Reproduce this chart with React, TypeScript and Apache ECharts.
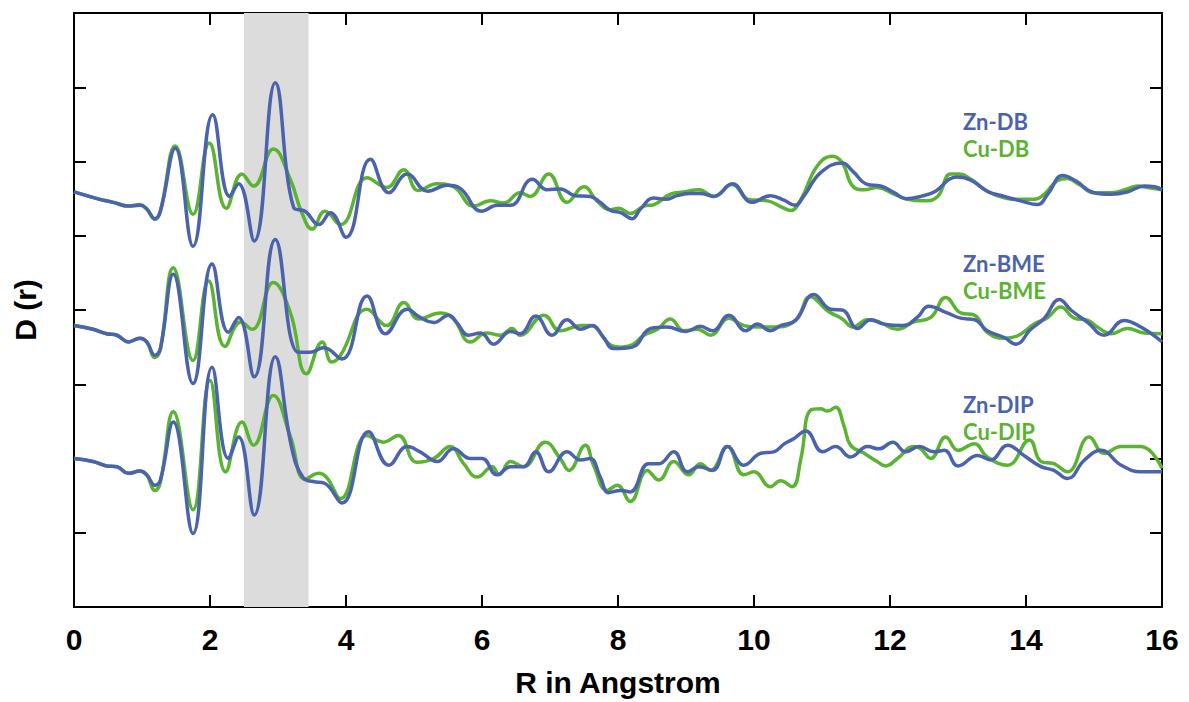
import React, { useEffect, useRef } from "react";
import * as echarts from "echarts";

// x-axis ticks (R in Angstrom) and shaded window
const xTicks = [0, 2, 4, 6, 8, 10, 12, 14, 16];
const shadeRange = [2.5, 3.45];

// D(r) traces, [R, D] pairs (arbitrary stacked units)
const znDB: [number, number][] = [
  [0, 5.59], [0.38, 5.49], [0.58, 5.45], [0.8, 5.4], [0.97, 5.41], [1.07, 5.36], [1.19, 5.23], [1.27, 5.33],
  [1.49, 6.18], [1.75, 4.86], [2.04, 6.63], [2.29, 5.53], [2.42, 5.7], [2.65, 4.93], [2.96, 7.06], [3.23, 5.38],
  [3.4, 5.33], [3.6, 5.15], [3.77, 5.31], [4.0, 4.98], [4.36, 6.03], [4.63, 5.58], [4.9, 5.83], [5.2, 5.6],
  [5.49, 5.68], [5.66, 5.65], [6.0, 5.33], [6.22, 5.41], [6.42, 5.41], [6.74, 5.76], [6.96, 5.62], [7.15, 5.63],
  [7.37, 5.54], [7.59, 5.53], [7.74, 5.45], [7.89, 5.34], [8.04, 5.31], [8.21, 5.23], [8.33, 5.36], [8.53, 5.51],
  [8.7, 5.49], [8.87, 5.54], [9.07, 5.57], [9.21, 5.57], [9.41, 5.53], [9.68, 5.7], [9.97, 5.45], [10.24, 5.54],
  [10.44, 5.48], [10.6, 5.41], [10.73, 5.53], [10.98, 5.85], [11.3, 5.98], [11.45, 5.87], [11.67, 5.69],
  [11.86, 5.67], [12.06, 5.58], [12.23, 5.5], [12.45, 5.53], [12.67, 5.6], [12.87, 5.76], [12.99, 5.79],
  [13.19, 5.75], [13.43, 5.6], [13.68, 5.53], [13.92, 5.47], [14.17, 5.42], [14.32, 5.56], [14.54, 5.81],
  [14.73, 5.74], [15.0, 5.58], [15.25, 5.56], [15.49, 5.59], [15.74, 5.67], [15.89, 5.66], [16.0, 5.62],
];
const cuDB: [number, number][] = [
  [0, 5.59], [0.38, 5.49], [0.58, 5.45], [0.8, 5.4], [0.97, 5.42], [1.07, 5.36], [1.19, 5.22], [1.27, 5.33],
  [1.49, 6.21], [1.75, 5.29], [1.99, 6.25], [2.24, 5.37], [2.47, 5.83], [2.64, 5.67], [2.93, 6.17], [3.18, 5.76],
  [3.35, 5.31], [3.5, 5.09], [3.69, 5.33], [3.92, 5.15], [4.31, 5.78], [4.6, 5.65], [4.85, 5.89], [5.06, 5.61],
  [5.34, 5.7], [5.58, 5.66], [5.88, 5.4], [6.12, 5.47], [6.32, 5.44], [6.56, 5.58], [6.71, 5.53], [6.98, 5.83],
  [7.25, 5.45], [7.5, 5.66], [7.69, 5.47], [7.89, 5.35], [8.01, 5.37], [8.18, 5.3], [8.38, 5.4], [8.53, 5.42],
  [8.77, 5.56], [8.97, 5.59], [9.19, 5.62], [9.41, 5.53], [9.68, 5.69], [9.92, 5.49], [10.2, 5.47], [10.4, 5.39],
  [10.54, 5.34], [10.69, 5.49], [10.93, 5.94], [11.15, 6.07], [11.3, 5.98], [11.45, 5.67], [11.62, 5.62],
  [11.81, 5.65], [12.06, 5.56], [12.26, 5.49], [12.5, 5.47], [12.7, 5.53], [12.89, 5.83], [13.02, 5.83],
  [13.19, 5.76], [13.43, 5.6], [13.68, 5.51], [13.87, 5.49], [14.12, 5.49], [14.27, 5.56], [14.46, 5.74],
  [14.61, 5.77], [14.78, 5.69], [15.0, 5.58], [15.25, 5.58], [15.49, 5.63], [15.64, 5.67], [15.79, 5.65], [16.0, 5.62],
];
const znBME: [number, number][] = [
  [0, 3.79], [0.28, 3.74], [0.48, 3.68], [0.63, 3.66], [0.8, 3.57], [0.97, 3.62], [1.07, 3.57], [1.19, 3.39],
  [1.27, 3.48], [1.46, 4.48], [1.75, 3.01], [2.03, 4.62], [2.27, 3.7], [2.42, 3.9], [2.65, 3.1], [2.96, 4.95],
  [3.3, 3.43], [3.47, 3.43], [3.67, 3.49], [3.94, 3.34], [4.31, 4.19], [4.58, 3.68], [4.9, 4.01], [5.09, 3.9],
  [5.29, 3.83], [5.51, 3.93], [5.63, 3.83], [5.8, 3.66], [5.98, 3.69], [6.17, 3.54], [6.42, 3.71], [6.56, 3.68],
  [6.79, 3.92], [7.03, 3.66], [7.25, 3.87], [7.45, 3.74], [7.62, 3.79], [7.78, 3.64], [7.94, 3.48], [8.21, 3.5],
  [8.48, 3.75], [8.72, 3.77], [9.0, 3.71], [9.21, 3.78], [9.39, 3.72], [9.63, 3.93], [9.88, 3.72], [10.05, 3.81],
  [10.24, 3.72], [10.39, 3.79], [10.61, 3.86], [10.88, 4.21], [11.13, 4.01], [11.3, 4.0], [11.52, 3.75],
  [11.72, 3.87], [11.91, 3.81], [12.18, 3.79], [12.4, 3.9], [12.57, 4.05], [12.84, 3.96], [13.04, 3.89],
  [13.24, 3.87], [13.43, 3.72], [13.68, 3.63], [13.85, 3.54], [14.07, 3.74], [14.27, 3.89], [14.49, 4.14],
  [14.66, 4.0], [14.91, 3.83], [15.15, 3.66], [15.44, 3.86], [15.69, 3.77], [16.0, 3.57],
];
const cuBME: [number, number][] = [
  [0, 3.79], [0.28, 3.74], [0.48, 3.68], [0.63, 3.66], [0.8, 3.57], [0.97, 3.62], [1.07, 3.57], [1.19, 3.36],
  [1.27, 3.47], [1.46, 4.57], [1.75, 3.32], [1.98, 4.39], [2.22, 3.51], [2.45, 3.84], [2.62, 3.74], [2.93, 4.37],
  [3.18, 3.97], [3.42, 3.14], [3.65, 3.57], [3.79, 3.3], [3.92, 3.39], [4.31, 4.01], [4.6, 3.79], [4.85, 4.1],
  [5.07, 3.88], [5.39, 3.96], [5.58, 3.88], [5.83, 3.57], [6.07, 3.69], [6.27, 3.66], [6.44, 3.75], [6.56, 3.66],
  [6.91, 3.93], [7.15, 3.72], [7.45, 3.79], [7.59, 3.79], [7.89, 3.53], [8.04, 3.5], [8.21, 3.53], [8.38, 3.66],
  [8.58, 3.74], [8.77, 3.88], [8.97, 3.72], [9.17, 3.74], [9.36, 3.66], [9.63, 3.89], [9.85, 3.79], [10.07, 3.77],
  [10.29, 3.77], [10.61, 3.86], [10.83, 4.18], [11.08, 3.99], [11.3, 3.88], [11.45, 3.77], [11.67, 3.87],
  [11.86, 3.83], [12.11, 3.74], [12.35, 3.84], [12.6, 3.9], [12.82, 4.17], [13.04, 3.96], [13.24, 3.93],
  [13.43, 3.7], [13.68, 3.62], [13.87, 3.65], [14.12, 3.81], [14.32, 3.9], [14.51, 4.04], [14.71, 3.89],
  [14.91, 3.86], [15.05, 3.77], [15.25, 3.68], [15.49, 3.75], [15.74, 3.69], [16.0, 3.68],
];
const znDIP: [number, number][] = [
  [0, 2.0], [0.28, 1.96], [0.48, 1.9], [0.63, 1.89], [0.8, 1.8], [0.97, 1.83], [1.07, 1.78], [1.19, 1.64],
  [1.27, 1.71], [1.46, 2.49], [1.75, 0.99], [2.03, 3.23], [2.27, 2.0], [2.42, 2.29], [2.65, 1.24], [2.96, 3.37],
  [3.2, 2.15], [3.37, 1.74], [3.52, 1.69], [3.68, 1.67], [3.94, 1.4], [4.33, 2.36], [4.63, 1.91], [4.9, 2.16],
  [5.09, 2.09], [5.34, 1.96], [5.58, 2.13], [5.83, 2.0], [6.0, 2.0], [6.22, 1.78], [6.42, 1.89], [6.61, 1.89],
  [6.79, 2.09], [6.98, 1.82], [7.25, 2.09], [7.45, 1.98], [7.59, 2.0], [7.74, 1.75], [7.86, 1.54], [8.04, 1.57],
  [8.18, 1.55], [8.45, 1.93], [8.6, 1.93], [8.82, 2.09], [9.02, 1.82], [9.19, 1.89], [9.39, 1.84], [9.61, 2.16],
  [9.85, 1.91], [10.1, 2.07], [10.29, 2.09], [10.45, 2.2], [10.59, 2.27], [10.76, 2.37], [11.01, 2.09],
  [11.2, 2.16], [11.42, 2.02], [11.67, 2.16], [11.84, 2.13], [12.04, 2.22], [12.23, 2.09], [12.43, 2.16],
  [12.65, 2.09], [12.8, 2.11], [13.0, 1.9], [13.29, 2.04], [13.48, 1.98], [13.73, 2.18], [13.97, 2.04],
  [14.22, 1.89], [14.41, 1.84], [14.61, 1.73], [14.86, 1.98], [15.1, 2.11], [15.4, 1.91], [15.69, 1.82], [16.0, 1.82],
];
const cuDIP: [number, number][] = [
  [0, 2.0], [0.28, 1.96], [0.48, 1.9], [0.63, 1.89], [0.8, 1.8], [0.97, 1.83], [1.07, 1.78], [1.19, 1.57],
  [1.27, 1.68], [1.46, 2.63], [1.75, 1.31], [2.0, 3.05], [2.23, 1.82], [2.47, 2.49], [2.64, 2.18], [2.93, 2.85],
  [3.18, 2.3], [3.4, 1.72], [3.6, 1.8], [3.72, 1.74], [3.92, 1.46], [4.31, 2.31], [4.55, 2.22], [4.77, 2.31],
  [5.04, 1.95], [5.29, 2.0], [5.53, 2.16], [5.73, 1.93], [5.93, 1.75], [6.15, 1.89], [6.25, 1.78], [6.42, 1.96],
  [6.61, 1.89], [6.93, 2.22], [7.15, 2.0], [7.28, 1.84], [7.52, 2.18], [7.64, 1.91], [7.84, 1.57], [7.99, 1.64],
  [8.18, 1.42], [8.43, 1.84], [8.6, 1.71], [8.82, 1.96], [9.04, 1.78], [9.21, 1.93], [9.36, 1.84], [9.61, 2.16],
  [9.85, 1.78], [10.0, 1.82], [10.24, 1.62], [10.39, 1.7], [10.56, 1.62], [10.69, 2.0], [10.83, 2.65],
  [10.98, 2.67], [11.08, 2.64], [11.2, 2.69], [11.32, 2.45], [11.42, 2.18], [11.62, 2.07], [11.81, 1.96],
  [11.94, 1.9], [12.11, 2.0], [12.35, 2.16], [12.45, 2.13], [12.6, 2.0], [12.82, 2.29], [13.0, 2.11],
  [13.24, 2.2], [13.43, 2.02], [13.73, 1.91], [14.05, 2.25], [14.22, 1.96], [14.41, 1.93], [14.61, 1.82],
  [14.93, 2.29], [15.15, 2.07], [15.4, 2.16], [15.69, 2.16], [16.0, 1.87],
];

const BLUE = "#4b63ad";
const GREEN = "#5bb332";

// sample labels: [Zn label, Cu label, top of the label pair]
const labelPairs: [string, string, number][] = [
  ["Zn-DB", "Cu-DB", 108],
  ["Zn-BME", "Cu-BME", 250],
  ["Zn-DIP", "Cu-DIP", 391],
];

export default function App() {
  const ref = useRef<HTMLDivElement>(null);
  useEffect(() => {
    document.body.style.margin = "0";
    if (!ref.current) return;
    const chart = echarts.init(ref.current, null, { renderer: "svg" });
    const axisFont = { color: "#000", fontSize: 30, fontWeight: "bold", fontFamily: "Liberation Sans, Arial, sans-serif" };
    const line = { color: "#000", width: 2 };
    const lineSeries = (name: string, data: [number, number][], color: string, z: number) => ({
      name,
      type: "line",
      data,
      smooth: 0.45,
      showSymbol: false,
      symbol: "none",
      z,
      lineStyle: { color, width: 3.5 },
      silent: true,
    });
    const labelFont = { fontSize: 22, fontWeight: "bold", fontFamily: "Lato, 'Open Sans', sans-serif", lineHeight: 27 };
    chart.setOption({
      animation: false,
      backgroundColor: "#fff",
      grid: { left: 74, right: 27, top: 13, bottom: 93 },
      xAxis: [
        {
          type: "value", min: xTicks[0], max: xTicks[xTicks.length - 1], interval: 2, position: "bottom",
          axisLine: { show: true, onZero: false, lineStyle: line },
          axisTick: { show: true, inside: true, length: 12, lineStyle: line },
          axisLabel: { ...axisFont, margin: 17 },
          splitLine: { show: false },
          name: "R in Angstrom", nameLocation: "middle", nameGap: 60,
          nameTextStyle: { ...axisFont },
        },
        {
          type: "value", min: 0, max: 16, interval: 2, position: "top",
          axisLine: { show: true, onZero: false, lineStyle: line },
          axisTick: { show: true, inside: true, length: 12, lineStyle: line },
          axisLabel: { show: false }, splitLine: { show: false },
        },
      ],
      yAxis: [
        {
          type: "value", min: 0, max: 8, interval: 1, position: "left",
          axisLine: { show: true, onZero: false, lineStyle: line },
          axisTick: { show: true, inside: true, length: 12, lineStyle: line },
          axisLabel: { show: false }, splitLine: { show: false },
          name: "D (r)", nameLocation: "middle", nameGap: 34,
          nameTextStyle: { ...axisFont },
        },
        {
          type: "value", min: 0, max: 8, interval: 1, position: "right",
          axisLine: { show: true, onZero: false, lineStyle: line },
          axisTick: { show: true, inside: true, length: 12, lineStyle: line },
          axisLabel: { show: false }, splitLine: { show: false },
        },
      ],
      series: [
        {
          name: "shade", type: "line", data: [], z: 1, silent: true,
          markArea: {
            silent: true,
            itemStyle: { color: "#dddcdd", opacity: 1 },
            data: [[{ xAxis: shadeRange[0] }, { xAxis: shadeRange[1] }]],
          },
        },
        lineSeries("Cu-DB", cuDB, GREEN, 3),
        lineSeries("Zn-DB", znDB, BLUE, 4),
        lineSeries("Cu-BME", cuBME, GREEN, 3),
        lineSeries("Zn-BME", znBME, BLUE, 4),
        lineSeries("Cu-DIP", cuDIP, GREEN, 3),
        lineSeries("Zn-DIP", znDIP, BLUE, 4),
      ],
      graphic: labelPairs.map(([zn, cu, top]) => ({
        type: "text",
        left: 963,
        top,
        z: 10,
        style: {
          text: `{zn|${zn}}\n{cu|${cu}}`,
          ...labelFont,
          rich: {
            zn: { ...labelFont, fill: BLUE },
            cu: { ...labelFont, fill: GREEN },
          },
        },
      })),
    });
    return () => chart.dispose();
  }, []);
  return <div ref={ref} style={{ width: 1189, height: 702 }} />;
}
